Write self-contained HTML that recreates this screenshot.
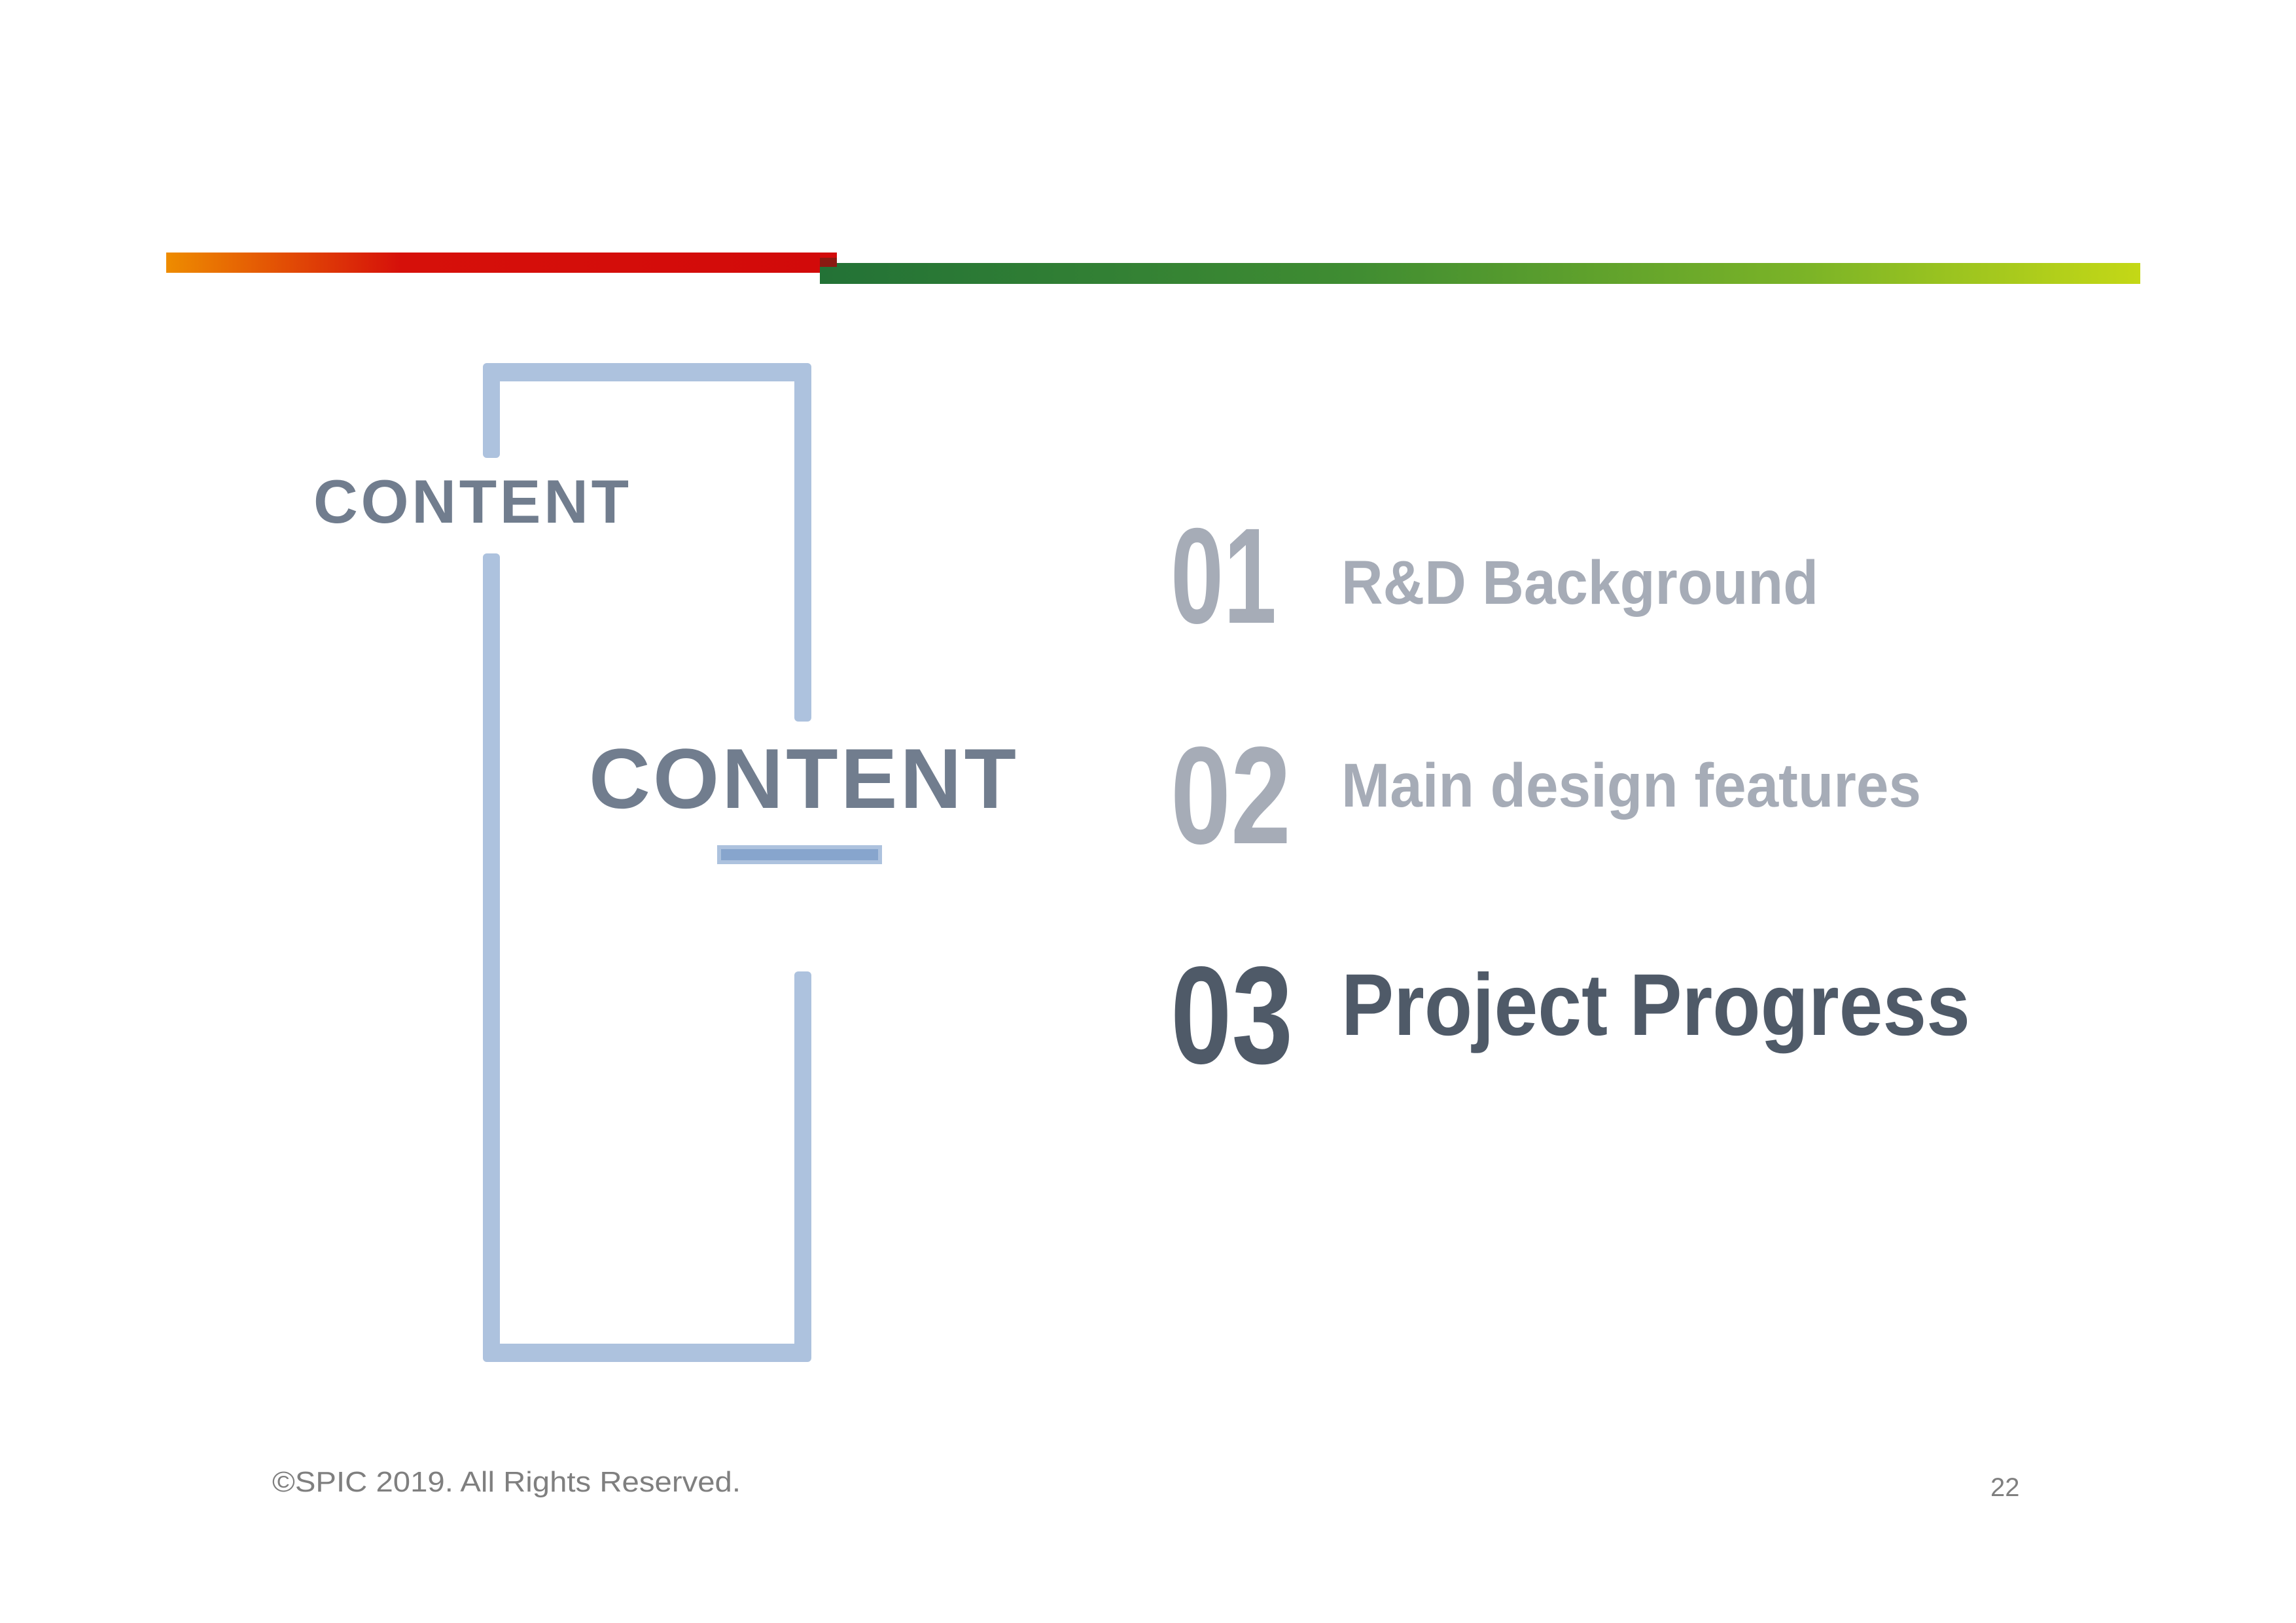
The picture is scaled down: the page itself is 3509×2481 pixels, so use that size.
<!DOCTYPE html>
<html><head><meta charset="utf-8"><style>
html,body{margin:0;padding:0;background:#fff;}
svg{display:block;}
</style></head><body>
<svg width="3509" height="2481" viewBox="0 0 3509 2481" xmlns="http://www.w3.org/2000/svg">
<defs>
<linearGradient id="rg" x1="0" x2="1" y1="0" y2="0">
<stop offset="0" stop-color="#ee8c00"/><stop offset="0.35" stop-color="#d6100a"/><stop offset="1" stop-color="#d20a0a"/>
</linearGradient>
<linearGradient id="gg" x1="0" x2="1" y1="0" y2="0">
<stop offset="0" stop-color="#237236"/><stop offset="0.4" stop-color="#3f8c32"/><stop offset="0.75" stop-color="#7cb427"/><stop offset="1" stop-color="#c4d816"/>
</linearGradient>
</defs>
<rect x="254" y="386" width="1025" height="31" fill="url(#rg)"/>
<rect x="1253" y="402" width="2018" height="32" fill="url(#gg)"/>
<rect x="1253" y="394" width="26" height="14" fill="#8a1a12"/>

<!-- bracket -->
<g fill="#adc2de">
<rect x="738" y="555" width="26" height="145" rx="6"/>
<rect x="738" y="555" width="502" height="28" rx="8"/>
<rect x="1214" y="555" width="26" height="548" rx="6"/>
<rect x="738" y="846" width="26" height="1236" rx="6"/>
<rect x="738" y="2054" width="502" height="28" rx="8"/>
<rect x="1214" y="1485" width="26" height="597" rx="6"/>
</g>
<rect x="1099" y="1295" width="246" height="23" fill="#87a5cd" stroke="#adc2de" stroke-width="6"/>

<g font-family="Liberation Sans, sans-serif" font-weight="bold">
<text x="479" y="799" font-size="94" fill="#717d8e" textLength="482" lengthAdjust="spacing">CONTENT</text>
<text x="900" y="1235" font-size="130" fill="#717d8e" textLength="653" lengthAdjust="spacing">CONTENT</text>

<text x="1789" y="952" font-size="208" fill="#a6acb7" textLength="162" lengthAdjust="spacingAndGlyphs">01</text>
<text x="1789" y="1289" font-size="212" fill="#a6acb7" textLength="184" lengthAdjust="spacingAndGlyphs">02</text>
<text x="1789" y="1625" font-size="212" fill="#4f5a68" textLength="187" lengthAdjust="spacingAndGlyphs">03</text>

<text x="2050" y="923" font-size="95" fill="#a6acb7" textLength="729" lengthAdjust="spacingAndGlyphs">R&amp;D Background</text>
<text x="2050" y="1233" font-size="95" fill="#a6acb7" textLength="886" lengthAdjust="spacingAndGlyphs">Main design features</text>
<text x="2050" y="1582" font-size="134" fill="#4f5a68" textLength="961" lengthAdjust="spacingAndGlyphs">Project Progress</text>
</g>
<g font-family="Liberation Sans, sans-serif" fill="#7f7f7f">
<text x="416" y="2280" font-size="44" textLength="716" lengthAdjust="spacingAndGlyphs">©SPIC 2019. All Rights Reserved.</text>
<text x="3042" y="2287" font-size="40">22</text>
</g>
</svg>
</body></html>
